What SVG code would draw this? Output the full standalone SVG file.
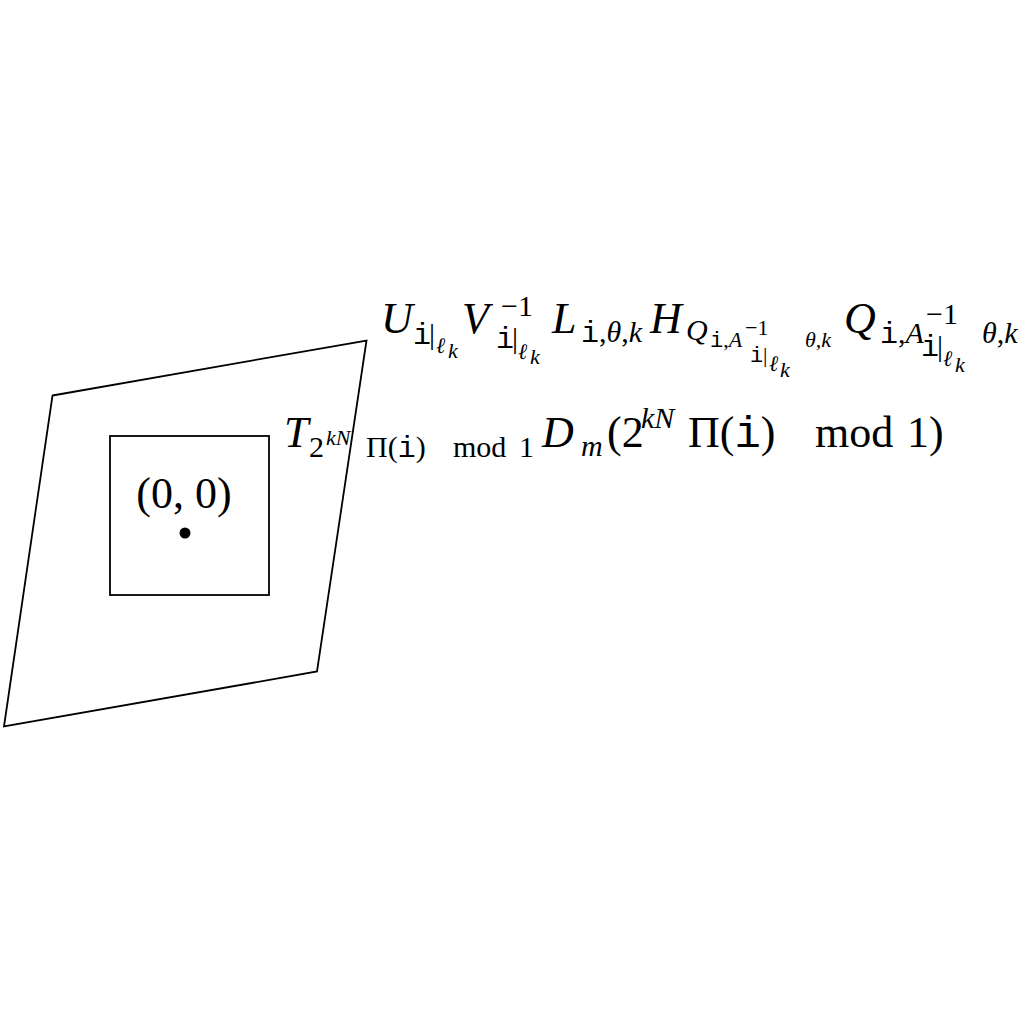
<svg xmlns="http://www.w3.org/2000/svg" width="1024" height="1024" viewBox="0 0 1024 1024">
<style>
.bg{fill:#fff}
.shape{fill:none;stroke:#000;stroke-width:1.8;stroke-linejoin:miter}
text{fill:#000}
.it{font-family:"Liberation Serif","DejaVu Serif",serif;font-style:italic}
.rm{font-family:"Liberation Serif","DejaVu Serif",serif}
.tt{font-family:"Liberation Mono","DejaVu Sans Mono",monospace}
.M{font-size:44px}
.S{font-size:30px}
.SS{font-size:22px}
</style>
<rect class="bg" x="0" y="0" width="1024" height="1024"/>
<g id="parallelogram">
<polygon class="shape" points="52.5,395.5 366.5,340.5 317,671.5 4,726.5"/>
</g>
<g id="square">
<rect class="shape" x="110" y="436" width="159" height="159"/>
</g>
<g id="origin">
<circle cx="185" cy="533" r="5.5" fill="#000"/>
<text class="rm M" x="184" y="508" text-anchor="middle">(0, 0)</text>
</g>
<g id="label-top">
<text class="it M" x="381" y="333">U</text>
<text class="tt S" x="413" y="344">i</text>
<text class="rm S" x="429" y="344">|</text>
<text class="it SS" x="436" y="353">ℓ</text>
<text class="it SS" x="448" y="358">k</text>
<text class="it M" x="462" y="333">V</text>
<text class="rm S" x="501" y="316">−1</text>
<text class="tt S" x="496" y="348">i</text>
<text class="rm S" x="512" y="348">|</text>
<text class="it SS" x="518" y="359">ℓ</text>
<text class="it SS" x="530" y="364">k</text>
<text class="it M" x="552" y="333">L</text>
<text class="S" x="581" y="342"><tspan class="tt">i</tspan><tspan class="rm">,</tspan><tspan class="it">θ</tspan><tspan class="rm">,</tspan><tspan class="it">k</tspan></text>
<text class="it M" x="650" y="333">H</text>
<text class="it S" x="686" y="340">Q</text>
<text class="SS" x="710" y="347"><tspan class="tt">i</tspan><tspan class="rm">,</tspan><tspan class="it">A</tspan></text>
<text class="rm SS" x="745" y="335">−1</text>
<text class="tt SS" x="750" y="362">i</text>
<text class="rm SS" x="763" y="362">|</text>
<text class="it SS" x="769" y="371">ℓ</text>
<text class="it SS" x="780" y="377">k</text>
<text class="SS" x="805" y="347"><tspan class="it">θ</tspan><tspan class="rm">,</tspan><tspan class="it">k</tspan></text>
<text class="it M" x="844" y="333">Q</text>
<text class="S" x="880" y="343"><tspan class="tt">i</tspan><tspan class="rm">,</tspan><tspan class="it">A</tspan></text>
<text class="rm S" x="926" y="324">−1</text>
<text class="tt S" x="921" y="356">i</text>
<text class="rm S" x="937" y="356">|</text>
<text class="it SS" x="943" y="366">ℓ</text>
<text class="it SS" x="955" y="372">k</text>
<text class="S" x="982" y="343"><tspan class="it">θ</tspan><tspan class="rm">,</tspan><tspan class="it">k</tspan></text>
</g>
<g id="label-mid">
<text class="it M" x="284" y="447">T</text>
<text class="rm S" x="309" y="457">2</text>
<text class="it SS" x="326" y="445">kN</text>
<text class="S" x="366" y="457"><tspan class="rm">Π(</tspan><tspan class="tt">i</tspan><tspan class="rm">)</tspan></text>
<text class="rm S" x="453" y="457">mod</text>
<text class="rm S" x="519" y="457">1</text>
<text class="it M" x="542" y="447">D</text>
<text class="it S" x="581" y="456">m</text>
<text class="rm M" x="607" y="447">(2</text>
<text class="it S" x="641" y="428">kN</text>
<text class="M" x="688" y="447"><tspan class="rm">Π(</tspan><tspan class="tt">i</tspan><tspan class="rm">)</tspan></text>
<text class="rm M" x="815" y="447">mod</text>
<text class="rm M" x="907" y="447">1)</text>
</g>
</svg>
